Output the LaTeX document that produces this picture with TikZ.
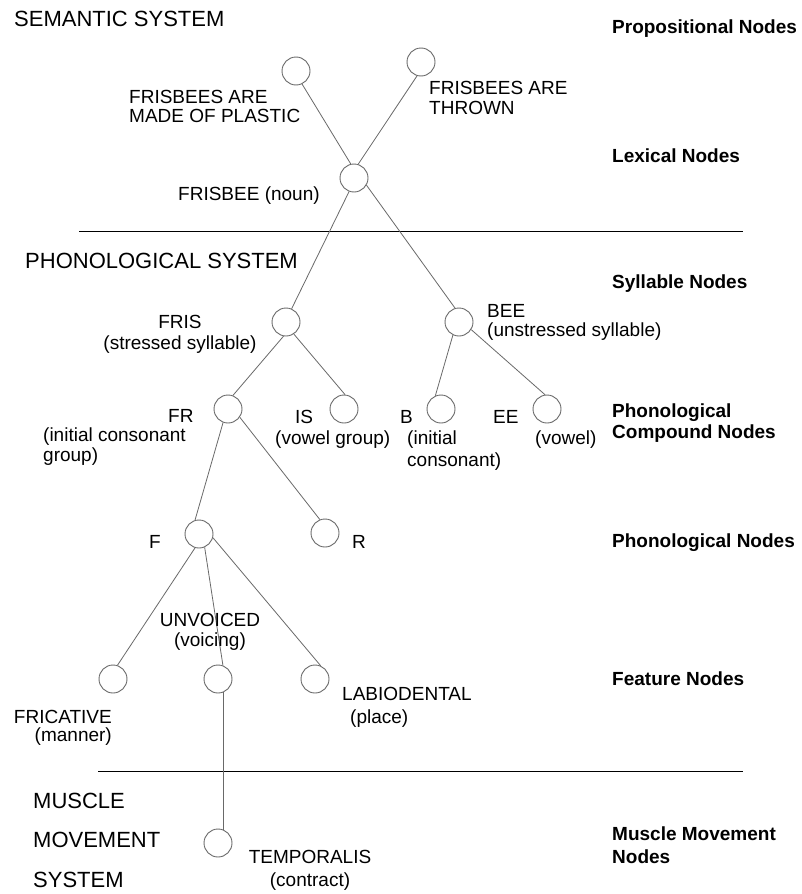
\documentclass[tikz,border=0pt]{standalone}
\usepackage{fontspec}
\setmainfont{Liberation Sans}
\definecolor{linegray}{RGB}{105,105,105}
\begin{document}
\begin{tikzpicture}[x=1pt,y=-1pt,
  nd/.style={circle, draw=linegray, line width=0.9pt, minimum size=28pt, inner sep=0pt},
  edge/.style={draw=linegray, line width=0.8pt},
  divider/.style={draw=black, line width=1pt},
  lbl/.style={inner sep=0pt, font=\fontsize{19}{20.5}\selectfont},
  lvl/.style={inner sep=0pt, font=\bfseries\fontsize{19}{21}\selectfont, align=left, anchor=base west},
  sys/.style={inner sep=0pt, font=\fontsize{22}{24}\selectfont, anchor=base west}]
\fill[white] (0,0) rectangle (801,894);
\useasboundingbox (0,0) rectangle (801,894);

% system dividers
\draw[divider] (79,231) -- (743,231);
\draw[divider] (98,771) -- (743,771);

% system titles (multi-line nodes are placed by the baseline of their last line)
\node[sys] (semsys) at (14,27) {SEMANTIC SYSTEM};
\node[sys] (phonsys) at (25,268) {PHONOLOGICAL SYSTEM};
\node[sys, align=left, font=\fontsize{22}{39.5}\selectfont] (muscsys) at (33,887) {MUSCLE\\MOVEMENT\\SYSTEM};

% level names
\node[lvl] (lvprop) at (612,33) {Propositional Nodes};
\node[lvl] (lvlex) at (612,162) {Lexical Nodes};
\node[lvl] (lvsyl) at (612,288) {Syllable Nodes};
\node[lvl] (lvcomp) at (612,438) {Phonological\\Compound Nodes};
\node[lvl] (lvphon) at (612,547) {Phonological Nodes};
\node[lvl] (lvfeat) at (612,685) {Feature Nodes};
\node[lvl, font=\bfseries\fontsize{19}{23}\selectfont] (lvmusc) at (612,863) {Muscle Movement\\Nodes};

% network nodes
\node[nd] (propL) at (296,71) {};
\node[nd] (propR) at (421,62) {};
\node[nd] (lex) at (354,178) {};
\node[nd] (fris) at (286,322) {};
\node[nd] (bee) at (459,322) {};
\node[nd] (fr) at (228,409) {};
\node[nd] (is) at (344,409) {};
\node[nd] (b) at (441,409) {};
\node[nd] (ee) at (547,409) {};
\node[nd] (f) at (199,534) {};
\node[nd] (r) at (325,533) {};
\node[nd] (fric) at (113,679) {};
\node[nd] (unv) at (218,679) {};
\node[nd] (lab) at (315,679) {};
\node[nd] (temp) at (218,843) {};

% connections
\draw[edge] (propL.-65) -- (lex.103);
\draw[edge] (propR.-106) -- (lex.73);
\draw[edge] (lex.-110) -- (fris.67);
\draw[edge] (lex.-30) -- (bee.106);
\draw[edge] (fris.-100) -- (fr.70);
\draw[edge] (fris.-57) -- (is.86);
\draw[edge] (bee.-115) -- (b.113);
\draw[edge] (bee.-32) -- (ee.98);
\draw[edge] (fr.-110) -- (f.106);
\draw[edge] (fr.-35) -- (r.111);
\draw[edge] (f.-106) -- (fric.72);
\draw[edge] (f.-67) -- (unv.70);
\draw[edge] (f.-15) -- (lab.67);
\draw[edge] (unv.-69) -- (temp.69);

% node labels
\node[lbl, align=left, anchor=base west, font=\fontsize{19}{19}\selectfont] (tplastic) at (129,122) {FRISBEES ARE\\MADE OF PLASTIC};
\node[lbl, align=left, anchor=base west, font=\fontsize{19}{20}\selectfont] (tthrown) at (429,114) {FRISBEES ARE\\THROWN};
\node[lbl, anchor=base west] (tlex) at (178,200) {FRISBEE (noun)};
\node[lbl, align=center, anchor=base, font=\fontsize{19}{21}\selectfont] (tfris) at (180,349) {FRIS\\(stressed syllable)};
\node[lbl, align=left, anchor=base west, font=\fontsize{19}{19}\selectfont] (tbee) at (487,336) {BEE\\(unstressed syllable)};
\node[lbl, align=left, anchor=base west, font=\fontsize{19}{19.5}\selectfont] (tfr) at (43,461) {\hspace*{125pt}FR\\(initial consonant\\group)};
\node[lbl, align=left, anchor=base west, font=\fontsize{19}{21}\selectfont] (tis) at (275,444) {\hspace*{20pt}IS\\(vowel group)};
\node[lbl, anchor=base west] (tb) at (400,423) {B};
\node[lbl, align=left, anchor=base west, font=\fontsize{19}{22}\selectfont] (tbsub) at (407,466) {(initial\\consonant)};
\node[lbl, anchor=base west] (tee) at (493,423) {EE};
\node[lbl, anchor=base west] (teesub) at (535,444) {(vowel)};
\node[lbl, anchor=base west] (tf) at (149,548) {F};
\node[lbl, anchor=base west] (tr) at (352,548) {R};
\node[lbl, align=center, anchor=base, font=\fontsize{19}{19.5}\selectfont] (tunv) at (210,646) {UNVOICED\\(voicing)};
\node[lbl, align=right, anchor=base east, font=\fontsize{19}{18}\selectfont] (tfric) at (112,741) {FRICATIVE\\(manner)};
\node[lbl, align=left, anchor=base west, font=\fontsize{19}{23}\selectfont] (tlab) at (342,723) {LABIODENTAL\\\hspace*{8pt}(place)};
\node[lbl, align=center, anchor=base, font=\fontsize{19}{23}\selectfont] (ttemp) at (310,886) {TEMPORALIS\\(contract)};
\end{tikzpicture}
\end{document}
